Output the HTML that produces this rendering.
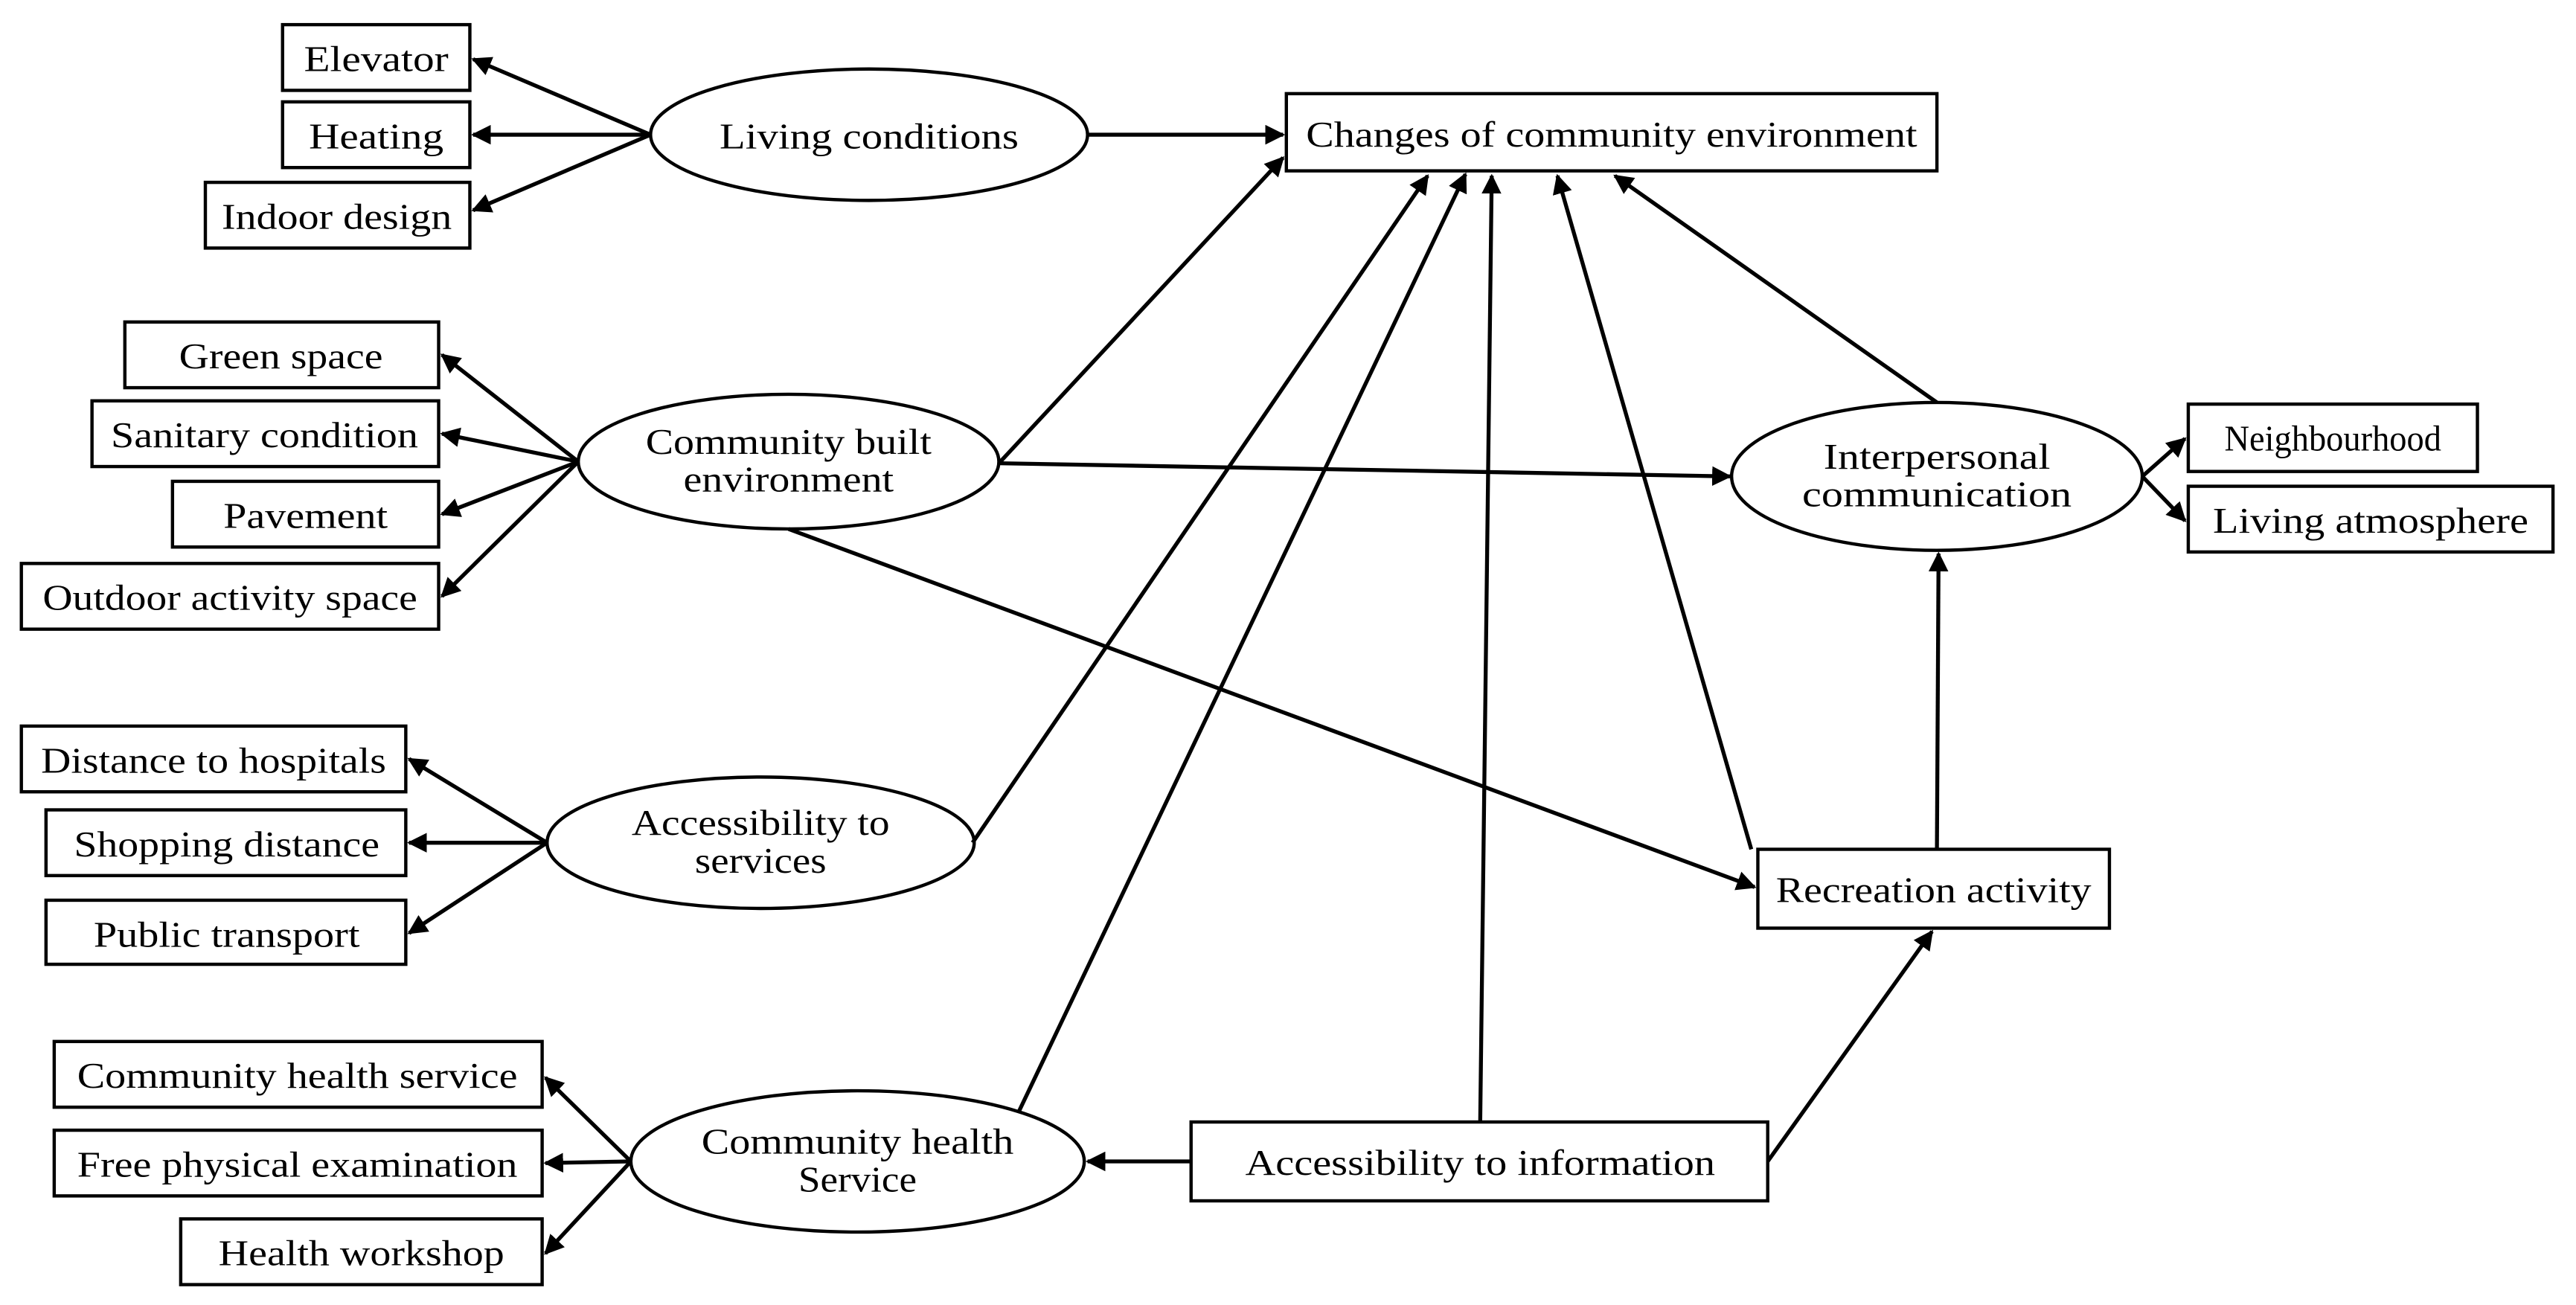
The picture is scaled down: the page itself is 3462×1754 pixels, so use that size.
<!DOCTYPE html>
<html><head><meta charset="utf-8"><style>
html,body{margin:0;padding:0;background:#fff}
svg{display:block}
text{font-family:"Liberation Serif",serif;font-size:22px;fill:#000}
</style></head><body>
<svg width="3462" height="1754" viewBox="0 0 1568 794.4" xmlns="http://www.w3.org/2000/svg">
<defs>
<marker id="a" viewBox="0 0 10 10" refX="9" refY="5" markerWidth="5" markerHeight="5" orient="auto" markerUnits="strokeWidth">
<path d="M0,0 L10,5 L0,10 z" fill="#000"/></marker>
</defs>
<g fill="#fff" stroke="#000" stroke-width="2">
<rect x="172" y="15" width="114" height="40"/>
<rect x="172" y="62" width="114" height="40"/>
<rect x="125" y="111" width="161" height="40"/>
<ellipse cx="529" cy="82" rx="133" ry="40"/>
<rect x="783" y="57" width="396" height="47"/>
<rect x="76" y="196" width="191" height="40"/>
<rect x="56" y="244" width="211" height="40"/>
<rect x="105" y="293" width="162" height="40"/>
<rect x="13" y="343" width="254" height="40"/>
<ellipse cx="480" cy="281" rx="128" ry="41"/>
<rect x="13" y="442" width="234" height="40"/>
<rect x="28" y="493" width="219" height="40"/>
<rect x="28" y="548" width="219" height="39"/>
<ellipse cx="463" cy="513" rx="130" ry="40"/>
<rect x="33" y="634" width="297" height="40"/>
<rect x="33" y="688" width="297" height="40"/>
<rect x="110" y="742" width="220" height="40"/>
<ellipse cx="522" cy="707" rx="138" ry="43"/>
<rect x="725" y="683" width="351" height="48"/>
<rect x="1070" y="517" width="214" height="48"/>
<ellipse cx="1179" cy="290" rx="125" ry="45"/>
<rect x="1332" y="246" width="176" height="41"/>
<rect x="1332" y="296" width="222" height="40"/>
</g>
<g stroke="#000" stroke-width="2.4" fill="none" marker-end="url(#a)">
<line x1="396" y1="82" x2="288" y2="36"/>
<line x1="396" y1="82" x2="288" y2="82"/>
<line x1="396" y1="82" x2="288" y2="128"/>
<line x1="662" y1="82" x2="781" y2="82"/>
<line x1="608" y1="282" x2="781" y2="96"/>
<line x1="608" y1="282" x2="1053" y2="290"/>
<line x1="480" y1="322" x2="1068" y2="540"/>
<line x1="352" y1="281" x2="269" y2="216"/>
<line x1="352" y1="281" x2="269" y2="264"/>
<line x1="352" y1="281" x2="269" y2="313"/>
<line x1="352" y1="281" x2="269" y2="363"/>
<line x1="592" y1="513" x2="869" y2="107"/>
<line x1="333" y1="513" x2="249" y2="462"/>
<line x1="333" y1="513" x2="249" y2="513"/>
<line x1="333" y1="513" x2="249" y2="568"/>
<line x1="620" y1="677" x2="892" y2="106"/>
<line x1="384" y1="707" x2="332" y2="656"/>
<line x1="384" y1="707" x2="332" y2="708"/>
<line x1="384" y1="707" x2="332" y2="763"/>
<line x1="725" y1="707" x2="662" y2="707"/>
<line x1="901" y1="683" x2="908" y2="107"/>
<line x1="1076" y1="707" x2="1176" y2="567"/>
<line x1="1066" y1="517" x2="948" y2="107"/>
<line x1="1179" y1="517" x2="1180" y2="337"/>
<line x1="1179" y1="245" x2="983" y2="107"/>
<line x1="1304" y1="290" x2="1330" y2="267"/>
<line x1="1304" y1="290" x2="1330" y2="317"/>
</g>
<g text-anchor="middle" dominant-baseline="central">
<text x="229" y="36" textLength="88" lengthAdjust="spacingAndGlyphs">Elevator</text>
<text x="229" y="83" textLength="82" lengthAdjust="spacingAndGlyphs">Heating</text>
<text x="205" y="132" textLength="140" lengthAdjust="spacingAndGlyphs">Indoor design</text>
<text x="529" y="83" textLength="182" lengthAdjust="spacingAndGlyphs">Living conditions</text>
<text x="981" y="82" textLength="372" lengthAdjust="spacingAndGlyphs">Changes of community environment</text>
<text x="171" y="217" textLength="124" lengthAdjust="spacingAndGlyphs">Green space</text>
<text x="161" y="265" textLength="187" lengthAdjust="spacingAndGlyphs">Sanitary condition</text>
<text x="186" y="314" textLength="100" lengthAdjust="spacingAndGlyphs">Pavement</text>
<text x="140" y="364" textLength="228" lengthAdjust="spacingAndGlyphs">Outdoor activity space</text>
<text x="480" y="269" textLength="174" lengthAdjust="spacingAndGlyphs">Community built</text>
<text x="480" y="292" textLength="128" lengthAdjust="spacingAndGlyphs">environment</text>
<text x="130" y="463" textLength="210" lengthAdjust="spacingAndGlyphs">Distance to hospitals</text>
<text x="138" y="514" textLength="186" lengthAdjust="spacingAndGlyphs">Shopping distance</text>
<text x="138" y="569" textLength="162" lengthAdjust="spacingAndGlyphs">Public transport</text>
<text x="463" y="501" textLength="157" lengthAdjust="spacingAndGlyphs">Accessibility to</text>
<text x="463" y="524" textLength="80" lengthAdjust="spacingAndGlyphs">services</text>
<text x="181" y="655" textLength="268" lengthAdjust="spacingAndGlyphs">Community health service</text>
<text x="181" y="709" textLength="268" lengthAdjust="spacingAndGlyphs">Free physical examination</text>
<text x="220" y="763" textLength="174" lengthAdjust="spacingAndGlyphs">Health workshop</text>
<text x="522" y="695" textLength="190" lengthAdjust="spacingAndGlyphs">Community health</text>
<text x="522" y="718" textLength="72" lengthAdjust="spacingAndGlyphs">Service</text>
<text x="901" y="708" textLength="286" lengthAdjust="spacingAndGlyphs">Accessibility to information</text>
<text x="1177" y="542" textLength="192" lengthAdjust="spacingAndGlyphs">Recreation activity</text>
<text x="1179" y="278" textLength="138" lengthAdjust="spacingAndGlyphs">Interpersonal</text>
<text x="1179" y="301" textLength="164" lengthAdjust="spacingAndGlyphs">communication</text>
<text x="1420" y="267" textLength="132" lengthAdjust="spacingAndGlyphs">Neighbourhood</text>
<text x="1443" y="317" textLength="192" lengthAdjust="spacingAndGlyphs">Living atmosphere</text>
</g>
</svg>
</body></html>
